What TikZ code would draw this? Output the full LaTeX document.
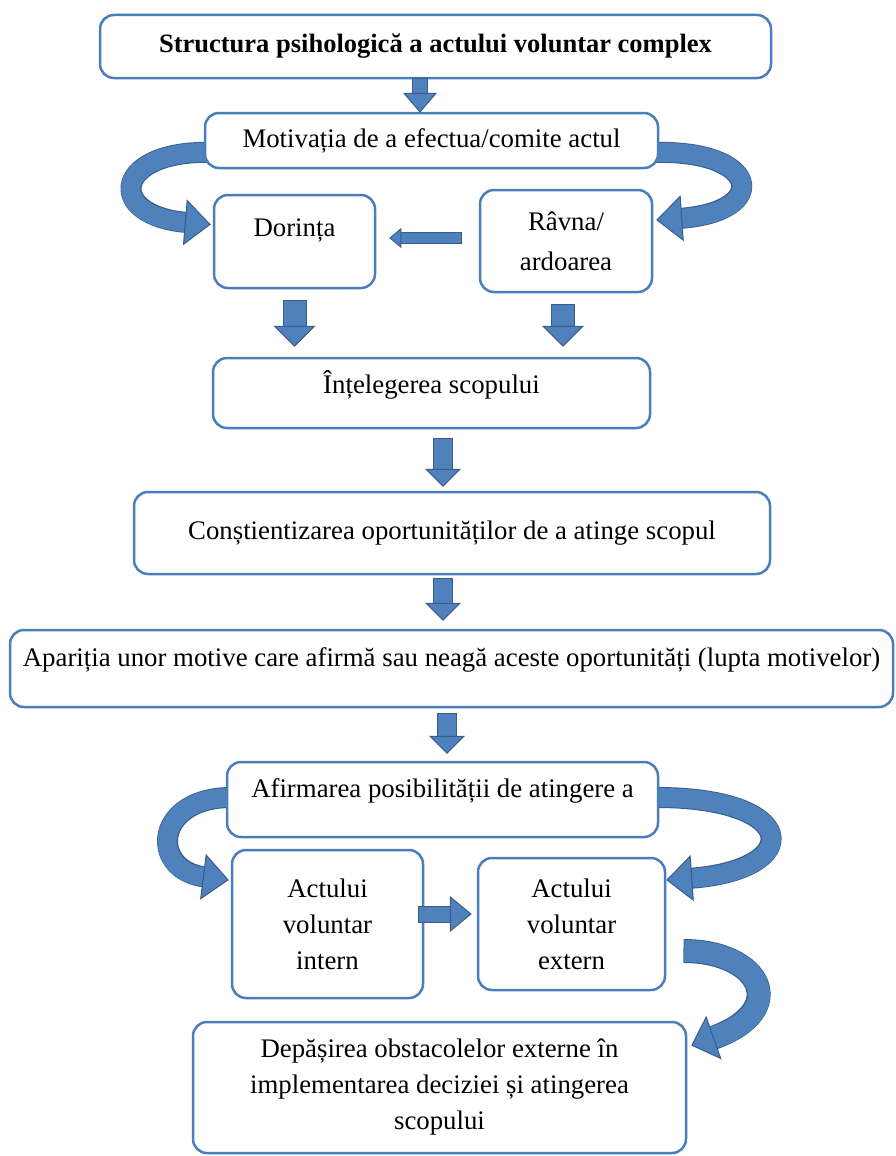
\documentclass[tikz,border=0pt]{standalone}
\usepackage{fontspec}
\setmainfont{Liberation Serif}
\usetikzlibrary{arrows.meta,calc,backgrounds}
\definecolor{boxc}{RGB}{74,126,187}
\definecolor{amid}{RGB}{79,129,189}
\definecolor{adark}{RGB}{56,93,138}
% #1 inner width, #2 outer width, #3 head length, #4 head width, #5 border shortening, #6 path
\newcommand\blockarrow[6]{%
  \draw[draw=adark, line width=#2, shorten >=#5, shorten <=-0.8pt] #6;
  \draw[draw=amid, line width=#1, -{Triangle[length=#3,width=#4,line width=1pt,fill=amid,color=adark]}] #6;
}
\begin{document}
\begin{tikzpicture}[x=1pt,y=-1pt,
  box/.style={draw=boxc, line width=2.5pt, rounded corners=14pt, fill=white,
    align=center, inner sep=0pt, font=\fontsize{26.8}{36}\selectfont}]
\useasboundingbox (0,0) rectangle (896,1156);

\node[box, minimum width=671pt, minimum height=63pt,
  font=\bfseries\fontsize{26.5}{32}\selectfont] (title) at (435.5,46.5)
  {Structura psihologică a actului voluntar complex};
\node[box, minimum width=453pt, minimum height=55pt] (motiv) at (431.5,140.5)
  {Motivația de a efectua/comite actul};
\node[box, minimum width=161pt, minimum height=93pt, text depth=28pt] (dor) at (294.5,241.5)
  {Dorința};
\node[box, minimum width=172pt, minimum height=102pt,
  font=\fontsize{26.8}{40}\selectfont] (rav) at (566,241)
  {Râvna/\\ardoarea};
\node[box, minimum width=437pt, minimum height=70pt, text depth=22pt] (int) at (431.5,393)
  {Înțelegerea scopului};
\node[box, minimum width=636pt, minimum height=82pt] (cons) at (452,533)
  {Conștientizarea oportunităților de a atinge scopul};
\node[box, minimum width=883pt, minimum height=77pt, text depth=22pt] (apar) at (451.5,668.5)
  {Apariția unor motive care afirmă sau neagă aceste oportunități (lupta motivelor)};
\node[box, minimum width=431pt, minimum height=75pt, text depth=22pt] (afi) at (442.5,799.5)
  {Afirmarea posibilității de atingere a};
\node[box, minimum width=191pt, minimum height=148pt] (ain) at (327.5,924)
  {Actului\\voluntar\\intern};
\node[box, minimum width=187pt, minimum height=132pt] (aex) at (571.5,924)
  {Actului\\voluntar\\extern};
\node[box, minimum width=493pt, minimum height=131pt] (dep) at (439.5,1087.5)
  {Depășirea obstacolelor externe în\\implementarea deciziei și atingerea\\scopului};

% straight block arrows
\blockarrow{14pt}{16pt}{20pt}{34pt}{18pt}{($(title.south)+(-15.5,0)$) -- ($(motiv.north)+(-11.5,1)$)}
\blockarrow{22pt}{24pt}{21pt}{42pt}{19pt}{($(dor.south)+(0,12)$) -- ($(dor.south |- int.north)+(0,-10)$)}
\blockarrow{22pt}{24pt}{21pt}{42pt}{19pt}{($(rav.south)+(-3,12)$) -- ($(rav.south |- int.north)+(-3,-10)$)}
\blockarrow{18pt}{20pt}{18pt}{36pt}{16pt}{($(int.south)+(11.5,10)$) -- ($(int.south |- cons.north)+(11.5,-4)$)}
\blockarrow{18pt}{20pt}{18pt}{36pt}{16pt}{($(cons.south)+(-9,4)$) -- ($(cons.south |- apar.north)+(-9,-8)$)}
\blockarrow{18pt}{20pt}{18pt}{36pt}{16pt}{($(apar.south)+(-4.5,6)$) -- ($(apar.south |- afi.north)+(-4.5,-7)$)}
\blockarrow{10pt}{12pt}{12pt}{20pt}{10pt}{($(rav.west)+(-18,-3)$) -- ($(dor.east)+(13,-3.5)$)}
\blockarrow{15pt}{17pt}{22pt}{36pt}{20pt}{($(ain.east)+(-5,-10)$) -- ($(aex.west)+(-5,-10)$)}

% curved arrows behind the boxes
\begin{pgfonlayer}{background}
\blockarrow{19pt}{21pt}{26pt}{46pt}{24pt}{($(motiv.west)+(10,12)$) .. controls +(-100,-4) and +(-107,-9) .. ($(dor.west)+(-2,-17)$)}
\blockarrow{19pt}{21pt}{26pt}{46pt}{24pt}{($(motiv.east)+(-8,12)$) .. controls +(110,-4) and +(115,-8) .. ($(rav.east)+(3,-21)$)}
\blockarrow{19pt}{21pt}{26pt}{46pt}{24pt}{($(afi.west)+(8,-2)$) .. controls +(-80,-2) and +(-80,-10) .. ($(ain.west)+(-2,-44)$)}
\blockarrow{19pt}{21pt}{26pt}{46pt}{24pt}{($(afi.east)+(-8,-2)$) .. controls +(150,-2) and +(140,-10) .. ($(aex.east)+(0,-44)$)}
\blockarrow{22pt}{24pt}{24pt}{46pt}{22pt}{($(aex.east)+(18,27)$) .. controls +(77,0) and +(100,-35) .. ($(dep.east)+(4,-42)$)}
\end{pgfonlayer}
\end{tikzpicture}
\end{document}
